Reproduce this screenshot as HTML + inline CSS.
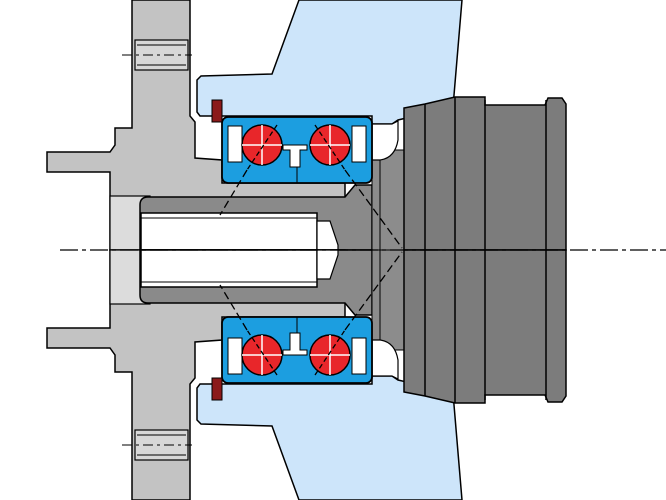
<!DOCTYPE html>
<html><head><meta charset="utf-8"><style>html,body{margin:0;padding:0;background:#fff}svg{display:block}</style></head>
<body>
<svg width="666" height="500" viewBox="0 0 666 500" xmlns="http://www.w3.org/2000/svg">
<defs>
<g id="half">
  <!-- knuckle -->
  <polygon points="197,80 201,76 272,74 299,0 462,0 453,107 398,120 392,124 372,124 372,116 200,116 197,112" fill="#cde5fa" stroke="#000" stroke-width="1.5"/>
  <!-- hub light grey -->
  <polygon points="132,0 190,0 190,116 195,122 195,158 222,160 222,183 345,183 345,250 110,250 110,172 47,172 47,152 110,152 115,145 115,128 132,128" fill="#c3c3c3" stroke="#000" stroke-width="1.5"/>
  <!-- flange hole -->
  <rect x="135" y="40" width="53" height="30" fill="#d8d8d8" stroke="#000" stroke-width="1.2"/>
  <line x1="137" y1="45" x2="186" y2="45" stroke="#000"/>
  <line x1="137" y1="65" x2="186" y2="65" stroke="#000"/>
  <line x1="122" y1="55" x2="192" y2="55" stroke="#000" stroke-dasharray="10,4,3,4"/>
  <!-- light band around bolt -->
  <rect x="110" y="196" width="40" height="54" fill="#dcdcdc" stroke="#000" stroke-width="1.2"/>
  <!-- bolt dark -->
  <path d="M148,197 L345,197 L355,185 L372,185 L372,250 L140,250 L140,205 Q140,197 148,197Z" fill="#8a8a8a" stroke="#000" stroke-width="1.5"/>
  <rect x="141" y="213" width="176" height="37" fill="#fff" stroke="#000" stroke-width="1.5"/>
  <line x1="141" y1="218" x2="317" y2="218" stroke="#000"/>
  <polygon points="317,221 330,221 338,245 338,250 317,250" fill="#fff" stroke="#000" stroke-width="1.2"/>
  <!-- dark disc -->
  <rect x="372" y="150" width="32" height="100" fill="#8c8c8c" stroke="#000" stroke-width="1"/>
  <path d="M404,250 L404,108 L425,104 L455,97 L485,97 L485,105 L545,105 L548,98 L562,98 L566,104 L566,250Z" fill="#7c7c7c" stroke="#000" stroke-width="1.5"/>
  <line x1="425" y1="104" x2="425" y2="250" stroke="#000" stroke-width="1.5"/>
  <line x1="455" y1="97" x2="455" y2="250" stroke="#000" stroke-width="1.5"/>
  <line x1="485" y1="100" x2="485" y2="250" stroke="#000" stroke-width="1.5"/>
  <line x1="546" y1="100" x2="546" y2="250" stroke="#000" stroke-width="1.5"/>
  <line x1="380" y1="150" x2="380" y2="250" stroke="#000"/>
  <!-- white gap between knuckle and disc -->
  <path d="M372,124 L392,124 L398,121 L398,140 Q395,158 380,160 L372,160Z" fill="#fff" stroke="#000" stroke-width="1.2"/>
  <!-- bearing -->
  <rect x="222" y="117" width="150" height="66" rx="6" fill="#1c9ee0" stroke="#000" stroke-width="1.8"/>
  <rect x="228" y="126" width="14" height="36" fill="#fff" stroke="#000" stroke-width="1"/>
  <rect x="352" y="126" width="14" height="36" fill="#fff" stroke="#000" stroke-width="1"/>
  <path d="M283,145 L307,145 L307,150 L300,150 L300,167 L290,167 L290,150 L283,150Z" fill="#fff" stroke="#000" stroke-width="1"/>
  <line x1="297" y1="167" x2="297" y2="183" stroke="#000"/>
  <g stroke="#000" stroke-width="1.5">
    <circle cx="262" cy="145" r="20" fill="#e8262a"/>
    <circle cx="330" cy="145" r="20" fill="#e8262a"/>
  </g>
  <g stroke="#fff" stroke-width="1.5">
    <line x1="262" y1="125" x2="262" y2="165"/><line x1="242" y1="145" x2="282" y2="145"/>
    <line x1="330" y1="125" x2="330" y2="165"/><line x1="310" y1="145" x2="350" y2="145"/>
  </g>
  <line x1="277" y1="125" x2="247" y2="170" stroke="#000" stroke-width="1.3" stroke-dasharray="5,3"/>
  <line x1="315" y1="125" x2="345" y2="170" stroke="#000" stroke-width="1.3" stroke-dasharray="5,3"/>
  <line x1="247" y1="170" x2="220" y2="215" stroke="#000" stroke-width="1.3" stroke-dasharray="8,4"/>
  <line x1="345" y1="170" x2="402" y2="248" stroke="#000" stroke-width="1.3" stroke-dasharray="8,4"/>
  <!-- seal -->
  <rect x="212" y="100" width="10" height="22" fill="#8b1a1a" stroke="#000" stroke-width="1"/>
</g>
</defs>
<use href="#half"/>
<use href="#half" transform="translate(0,500) scale(1,-1)"/>
<line x1="60" y1="250" x2="666" y2="250" stroke="#000" stroke-width="1.3" stroke-dasharray="18,4,4,4"/>
</svg>
</body></html>
